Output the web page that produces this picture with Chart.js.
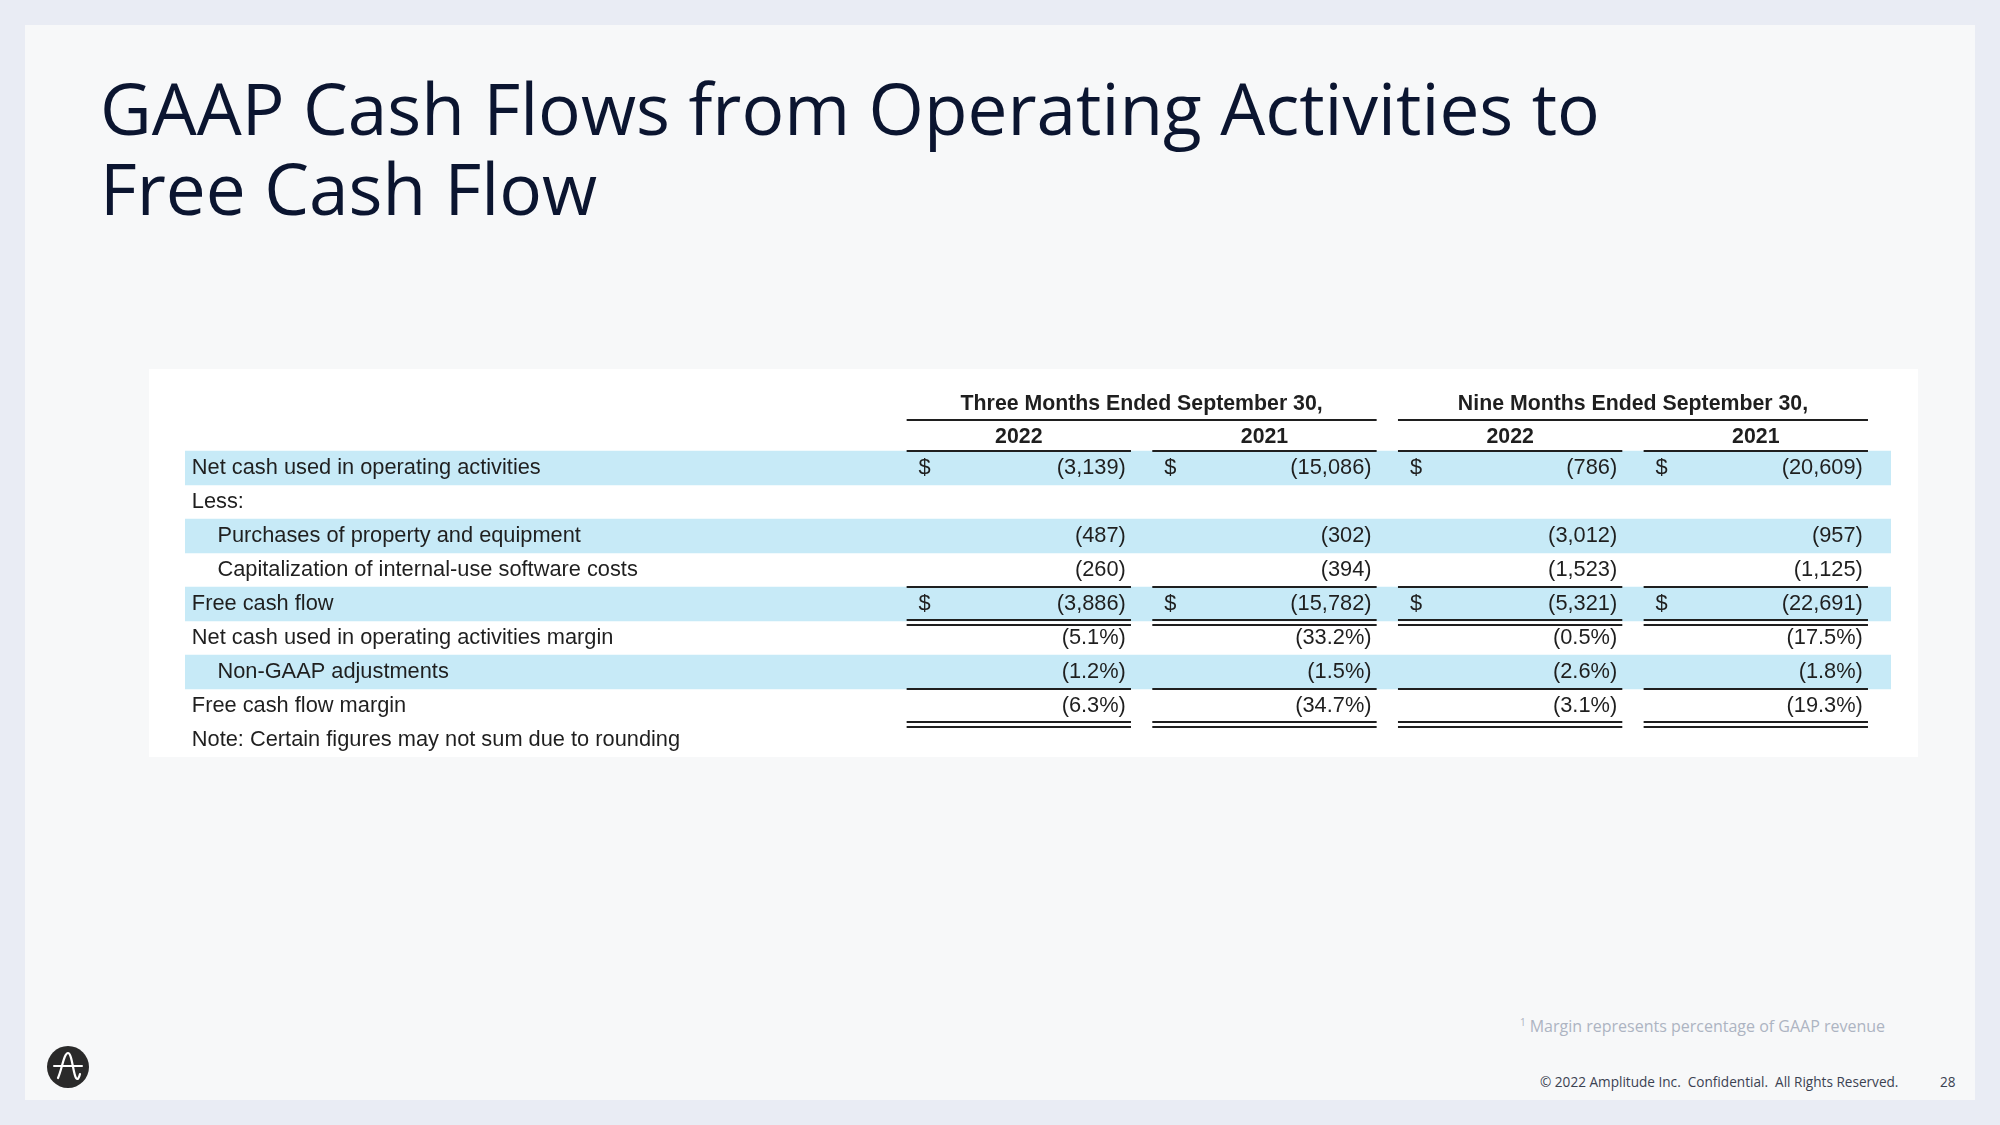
<!DOCTYPE html>
<html>
<head>
<meta charset="utf-8">
<script src="https://cdn.jsdelivr.net/npm/chart.js@4.4.0/dist/chart.umd.min.js"></script>
<style>
  html, body { margin: 0; padding: 0; }
  body { width: 2000px; height: 1125px; background: #e9ecf4; position: relative; overflow: hidden; }
  #panel { position: absolute; left: 25px; top: 25px; width: 1950px; height: 1075px; background: #f7f8f9; }
  #title { position: absolute; left: 100px; top: 60px; margin: 0; font-family: "Open Sans", sans-serif;
           font-weight: 400; color: #0b1530; line-height: 80px; white-space: nowrap; }
  #tablebox { position: absolute; left: 149px; top: 369px; width: 1769px; height: 388px; background: #ffffff; }
  #tablebox canvas { display: block; }
  #note { position: absolute; left: 1520px; top: 1011px; font-family: "Open Sans", sans-serif; font-size: 16px;
          line-height: 22px; color: #adb4c2; white-space: nowrap; }
  #note sup { font-size: 10px; vertical-align: 6px; margin-right: 4px; }
  #footer { position: absolute; left: 1540px; top: 1072px; font-family: "Open Sans", sans-serif; font-size: 13.6px;
            line-height: 20px; color: #3b4252; white-space: nowrap; }
  #page { position: absolute; left: 1940px; top: 1072px; font-family: "Open Sans", sans-serif; font-size: 13.6px;
          line-height: 20px; color: #3b4252; }
  #logo { position: absolute; left: 46px; top: 1045px; }
</style>
</head>
<body>
<div id="panel"></div>
<h1 id="title">GAAP Cash Flows from Operating Activities to<br>Free Cash Flow</h1>
<div id="tablebox"><canvas id="table" width="1769" height="388"></canvas></div>
<div id="note"><sup>1</sup>Margin represents percentage of GAAP revenue</div>
<div id="footer">© 2022 Amplitude Inc.&nbsp; Confidential.&nbsp; All Rights Reserved.</div>
<div id="page">28</div>
<svg id="logo" width="44" height="44" viewBox="-22 -22 44 44">
  <circle cx="0" cy="0" r="21" fill="#2a2a2a"/>
  <path d="M-14 -1 L14 -1" stroke="#fff" stroke-width="2" fill="none" stroke-linecap="round"/>
  <path d="M-10 11 C-6 2 -4 -14 0 -14 C4 -14 5 6 8 11 C9.5 13.5 11 11 12 7" stroke="#fff" stroke-width="2.2" fill="none" stroke-linecap="round"/>
</svg>
<script>
// ---- table data ----
const rowLabels = [
  "", "",
  "Net cash used in operating activities",
  "Less:",
  "Purchases of property and equipment",
  "Capitalization of internal-use software costs",
  "Free cash flow",
  "Net cash used in operating activities margin",
  "Non-GAAP adjustments",
  "Free cash flow margin",
  "Note: Certain figures may not sum due to rounding"
];
const indentedRows = [4, 5, 8];
const highlightedRows = [2, 4, 6, 8];
const periods = ["Three Months Ended September 30,", "Nine Months Ended September 30,"];
const years = ["2022", "2021", "2022", "2021"];

const netCashOps    = [-3139, -15086, -786, -20609];
const purchasesPPE  = [-487, -302, -3012, -957];
const capSoftware   = [-260, -394, -1523, -1125];
const freeCashFlow  = [-3886, -15782, -5321, -22691];
const netCashMargin = [-5.1, -33.2, -0.5, -17.5];
const nonGaapAdj    = [-1.2, -1.5, -2.6, -1.8];
const fcfMargin     = [-6.3, -34.7, -3.1, -19.3];

// row index -> values, whether a $ sign is shown, percent or not
const valueRows = [
  { row: 2, values: netCashOps, dollar: true, pct: false },
  { row: 4, values: purchasesPPE, dollar: false, pct: false },
  { row: 5, values: capSoftware, dollar: false, pct: false },
  { row: 6, values: freeCashFlow, dollar: true, pct: false },
  { row: 7, values: netCashMargin, dollar: false, pct: true },
  { row: 8, values: nonGaapAdj, dollar: false, pct: true },
  { row: 9, values: fcfMargin, dollar: false, pct: true }
];
// rules below rows: 1 = single, 2 = double
const rulesBelow = [
  { after: 1, kind: 1 }, { after: 5, kind: 1 }, { after: 6, kind: 2 },
  { after: 8, kind: 1 }, { after: 9, kind: 2 }
];

// ---- layout (x axis units: 0..100 across the shaded band) ----
const colStart = [42.3, 56.7, 71.1, 85.5];
const colWidth = 13.15;
const labelX = 0.4, indentX = 1.9;
const bandColor = "#c7eaf7";
const inkColor = "#1f1f1f";
const tableFont = '"Liberation Sans", Arial, sans-serif';

function fmt(v, pct) {
  const a = Math.abs(v);
  const s = pct ? a.toFixed(1) + "%" : a.toLocaleString("en-US");
  return v < 0 ? "(" + s + ")" : s;
}

// fit title width to the reference
(function () {
  const t = document.getElementById("title");
  const c = document.createElement("canvas").getContext("2d");
  c.font = '100px "Open Sans"';
  const m = c.measureText("GAAP Cash Flows from Operating Activities to");
  const size = Math.min(76, 100 * 1500 / m.width);
  const asc = m.fontBoundingBoxAscent * size / 100;
  const desc = m.fontBoundingBoxDescent * size / 100;
  t.style.fontSize = size + "px";
  t.style.top = (136 - ((80 - (asc + desc)) / 2 + asc)) + "px";
})();

const tablePlugin = {
  id: "tableCells",
  afterDatasetsDraw(chart) {
    const { ctx, scales: { x, y } } = chart;
    ctx.save();
    ctx.fillStyle = inkColor;
    ctx.textBaseline = "middle";

    // row labels
    ctx.font = "21.8px " + tableFont;
    ctx.textAlign = "left";
    rowLabels.forEach((label, i) => {
      if (!label) return;
      const lx = indentedRows.includes(i) ? indentX : labelX;
      ctx.fillText(label, x.getPixelForValue(lx), y.getPixelForValue(i));
    });

    // period headers + underline (header rows sit a little low in their slots)
    ctx.font = "bold 21.3px " + tableFont;
    ctx.textAlign = "center";
    periods.forEach((p, g) => {
      const x0 = x.getPixelForValue(colStart[g * 2]);
      const x1 = x.getPixelForValue(colStart[g * 2 + 1] + colWidth);
      ctx.fillText(p, (x0 + x1) / 2, y.getPixelForValue(0.13));
      const ly = Math.round(y.getPixelForValue(0.6)) - 1;
      ctx.fillRect(x0, ly, x1 - x0, 2);
    });
    years.forEach((yr, c) => {
      const x0 = x.getPixelForValue(colStart[c]);
      const x1 = x.getPixelForValue(colStart[c] + colWidth);
      ctx.fillText(yr, (x0 + x1) / 2, y.getPixelForValue(1.08));
    });

    // values
    ctx.font = "21.8px " + tableFont;
    valueRows.forEach(r => {
      const cy = y.getPixelForValue(r.row);
      r.values.forEach((v, c) => {
        if (r.dollar) {
          ctx.textAlign = "left";
          ctx.fillText("$", x.getPixelForValue(colStart[c] + 0.7), cy);
        }
        ctx.textAlign = "right";
        ctx.fillText(fmt(v, r.pct), x.getPixelForValue(colStart[c] + colWidth - 0.3), cy);
      });
    });

    // rules under columns
    rulesBelow.forEach(rule => {
      const ly = Math.round(y.getPixelForValue(rule.after + 0.5));
      colStart.forEach(cs => {
        const x0 = x.getPixelForValue(cs);
        const w = x.getPixelForValue(cs + colWidth) - x0;
        if (rule.kind === 1) {
          ctx.fillRect(x0, ly - 1, w, 2);
        } else {
          ctx.fillRect(x0, ly - 2, w, 2);
          ctx.fillRect(x0, ly + 3, w, 2);
        }
      });
    });
    ctx.restore();
  }
};

const bandData = rowLabels.map((_, i) => highlightedRows.includes(i) ? [0, 100] : null);

new Chart(document.getElementById("table"), {
  type: "bar",
  data: {
    labels: rowLabels,
    datasets: [{
      data: bandData,
      backgroundColor: bandColor,
      borderWidth: 0,
      barPercentage: 1,
      categoryPercentage: 1
    }]
  },
  options: {
    indexAxis: "y",
    responsive: false,
    animation: false,
    devicePixelRatio: 1,
    events: [],
    layout: { padding: { left: 36, right: 27, top: 14, bottom: 0 } },
    scales: {
      x: { type: "linear", min: 0, max: 100, display: false },
      y: { type: "category", display: false, offset: true }
    },
    plugins: {
      legend: { display: false },
      tooltip: { enabled: false }
    }
  },
  plugins: [tablePlugin]
});
</script>
</body>
</html>
